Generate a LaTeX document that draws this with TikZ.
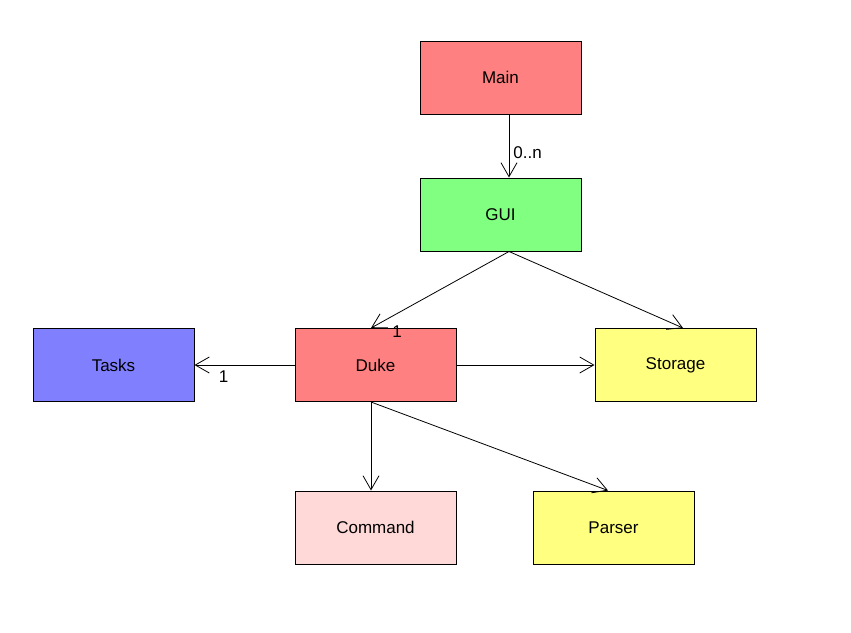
\documentclass[tikz,border=0pt]{standalone}
\usepackage{fontspec}
\setmainfont{Liberation Sans}
\usetikzlibrary{arrows.meta}

\definecolor{redcls}{HTML}{FF8080}
\definecolor{greencls}{HTML}{80FF80}
\definecolor{bluecls}{HTML}{8080FF}
\definecolor{yellowcls}{HTML}{FFFF80}
\definecolor{pinkcls}{HTML}{FFD8D8}

\tikzset{
  cls/.style={draw, line width=1pt, minimum width=161pt, minimum height=73pt,
    inner sep=0pt, font=\fontsize{17}{20}\selectfont},
  assoc/.style={line width=0.8pt, -{Straight Barb[length=14pt,width=16pt,line width=0.8pt]}},
  mult/.style={font=\fontsize{17}{20}\selectfont, inner sep=0pt}
}

\begin{document}
\begin{tikzpicture}[x=1pt,y=-1pt]
  \useasboundingbox (0,0) rectangle (851,632);
  % classes
  \node[cls, fill=redcls] (main) at (500.5,77.5) {Main};
  \node[cls, fill=greencls] (gui) at (500.5,214.5) {GUI};
  \node[cls, fill=bluecls] (tasks) at (113.5,365) {Tasks};
  \node[cls, fill=redcls] (duke) at (375.5,365) {Duke};
  \node[cls, fill=yellowcls] (storage) at (675.5,365) {Storage};
  \node[cls, fill=pinkcls] (command) at (375.5,527.5) {Command};
  \node[cls, fill=yellowcls] (parser) at (613.5,527.5) {Parser};

  % associations
  \draw[assoc] ([xshift=8.5pt]main.south) -- ([xshift=8.5pt]gui.north)
    node[mult, pos=0.6, anchor=west, xshift=4pt] {0..n};
  \draw[assoc] ([xshift=8.5pt]gui.south) -- ([xshift=-4.5pt]duke.north)
    node[mult, pos=1, xshift=26pt, yshift=-4pt] {1};
  \draw[assoc] ([xshift=8.5pt]gui.south) -- ([xshift=7.5pt]storage.north);
  \draw[assoc] (duke.west) -- (tasks.east)
    node[mult, pos=1, xshift=29pt, yshift=-12pt] {1};
  \draw[assoc] (duke.east) -- (storage.west);
  \draw[assoc] ([xshift=-4.5pt]duke.south) -- ([xshift=-4.5pt]command.north);
  \draw[assoc] ([xshift=-4.5pt]duke.south) -- ([xshift=-5.5pt]parser.north);
\end{tikzpicture}
\end{document}
